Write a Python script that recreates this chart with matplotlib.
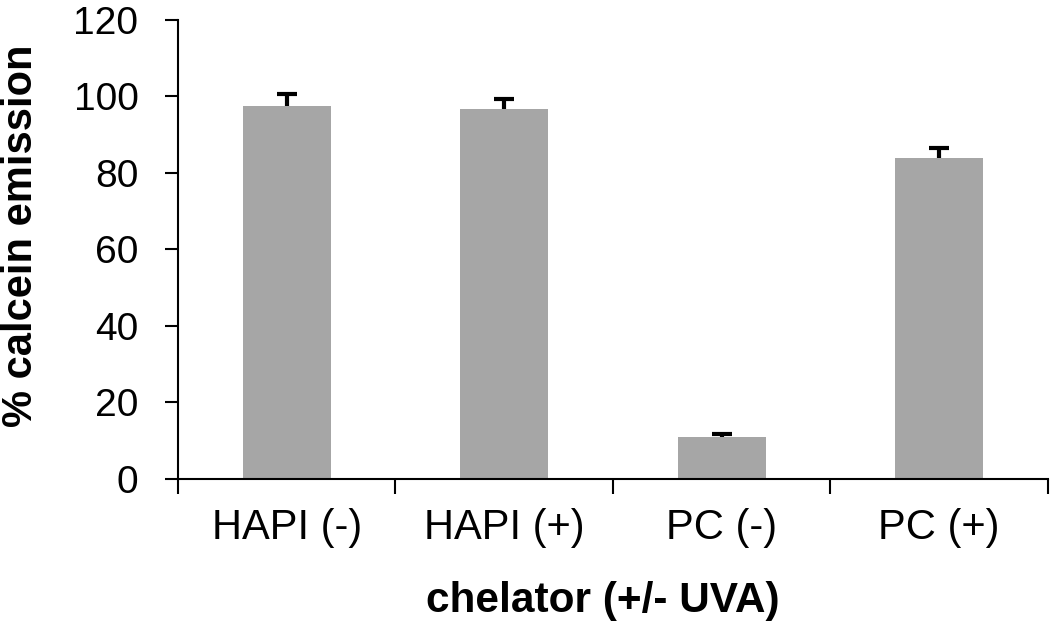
import matplotlib
matplotlib.use("Agg")
import matplotlib.pyplot as plt
import numpy as np
from matplotlib.ticker import FixedLocator, NullFormatter, FixedFormatter

plt.rcParams['font.family'] = ['Liberation Sans', 'DejaVu Sans']

# data
categories = ['HAPI (-)', 'HAPI (+)', 'PC (-)', 'PC (+)']
emission = [97.5, 96.8, 11.1, 84.0]
emission_err = [3.1, 2.5, 0.7, 2.5]

fig = plt.figure(figsize=(10.5, 6.3), dpi=100)
ax = fig.add_axes([0.1695, 0.2397, 0.8285, 0.7286])

x = np.arange(len(categories))
lower = np.zeros(len(emission_err))
ax.bar(x, emission, width=0.405, color='#a6a6a6', zorder=2)
_, caps, _ = ax.errorbar(x, emission, yerr=[lower, emission_err], fmt='none',
                         ecolor='black', elinewidth=3, capsize=7.5,
                         capthick=3, zorder=3)
# only the upper (plus) error bar is shown
caps[0].set_visible(False)

ax.set_xlim(-0.5, len(categories) - 0.5)
ax.set_ylim(0, 120)
ax.set_yticks(np.arange(0, 121, 20))

# category boundaries get the tick marks, labels sit between them
ax.xaxis.set_major_locator(FixedLocator(np.arange(-0.5, len(categories), 1.0)))
ax.xaxis.set_major_formatter(NullFormatter())
ax.xaxis.set_minor_locator(FixedLocator(x))
ax.xaxis.set_minor_formatter(FixedFormatter(categories))
ax.tick_params(axis='x', which='major', direction='out', length=11, width=1.5)
ax.tick_params(axis='x', which='minor', length=0, pad=21, labelsize=30)
ax.tick_params(axis='y', direction='out', length=9.5, width=1.5, pad=19, labelsize=28)

for side in ['top', 'right']:
    ax.spines[side].set_visible(False)
for side in ['left', 'bottom']:
    ax.spines[side].set_linewidth(1.5)

ax.set_xlabel('chelator (+/- UVA)', fontsize=30.5, fontweight='bold')
ax.set_ylabel('% calcein emission', fontsize=30, fontweight='bold')
ax.xaxis.set_label_coords(0.488, -0.222)
ax.yaxis.set_label_coords(-0.157, 0.53)

fig.savefig('out.png', dpi=100)
